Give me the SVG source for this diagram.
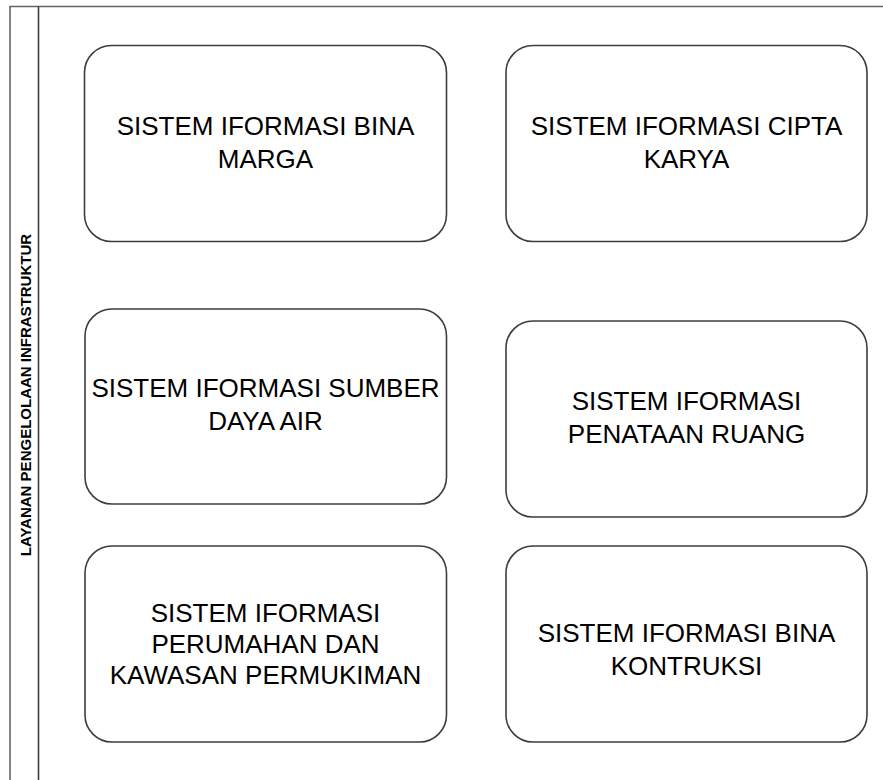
<svg xmlns="http://www.w3.org/2000/svg" width="883" height="780" viewBox="0 0 883 780">
<style>
.box{fill:#fff;stroke:#3d3d3d;stroke-width:1.6}
.lbl{font-family:"Liberation Sans",Arial,sans-serif;font-size:26px;fill:#000;text-anchor:middle}
.lane{fill:none;stroke:#666;stroke-width:1.6}
.div{fill:none;stroke:#3d3d3d;stroke-width:1.6}
.title{font-family:"Liberation Sans",Arial,sans-serif;font-size:15px;font-weight:bold;fill:#000;text-anchor:middle}
</style>
<rect width="883" height="780" fill="#fff"/>
<g id="lane">
<path class="lane" d="M10,780 V6.5 H883"/>
<path class="div" d="M38.5,6.5 V780"/>
<text class="title" transform="translate(30.5,395) rotate(-90)">LAYANAN PENGELOLAAN INFRASTRUKTUR</text>
</g>
<g id="connectors"></g>
<g id="n1">
<rect class="box" x="84.5" y="45.5" width="362" height="196" rx="27"/>
<text class="lbl" x="265.5" y="135">SISTEM IFORMASI BINA</text>
<text class="lbl" x="265.5" y="168">MARGA</text>
</g>
<g id="n2">
<rect class="box" x="506" y="45.5" width="361" height="196" rx="27"/>
<text class="lbl" x="686.5" y="135">SISTEM IFORMASI CIPTA</text>
<text class="lbl" x="686.5" y="168">KARYA</text>
</g>
<g id="n3">
<rect class="box" x="85" y="309" width="361.5" height="195" rx="27"/>
<text class="lbl" x="265.5" y="397">SISTEM IFORMASI SUMBER</text>
<text class="lbl" x="265.5" y="430">DAYA AIR</text>
</g>
<g id="n4">
<rect class="box" x="506" y="321" width="361" height="196" rx="27"/>
<text class="lbl" x="686.5" y="410">SISTEM IFORMASI</text>
<text class="lbl" x="686.5" y="443">PENATAAN RUANG</text>
</g>
<g id="n5">
<rect class="box" x="85" y="546" width="361.5" height="196" rx="27"/>
<text class="lbl" x="265.5" y="622">SISTEM IFORMASI</text>
<text class="lbl" x="265.5" y="653">PERUMAHAN DAN</text>
<text class="lbl" x="265.5" y="684">KAWASAN PERMUKIMAN</text>
</g>
<g id="n6">
<rect class="box" x="506" y="546" width="361" height="196" rx="27"/>
<text class="lbl" x="686.5" y="642">SISTEM IFORMASI BINA</text>
<text class="lbl" x="686.5" y="675">KONTRUKSI</text>
</g>
</svg>
